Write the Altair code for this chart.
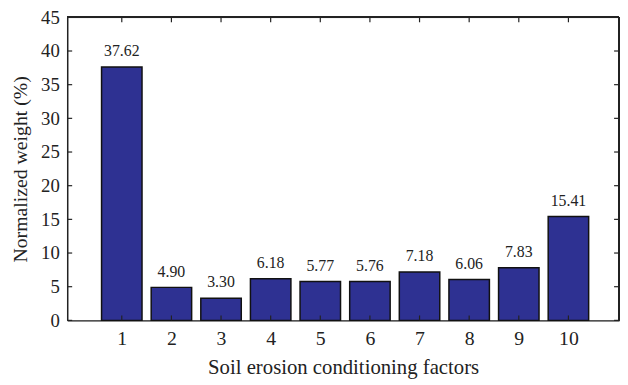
import altair as alt
import pandas as pd

factors = [1, 2, 3, 4, 5, 6, 7, 8, 9, 10]
weights = [37.62, 4.90, 3.30, 6.18, 5.77, 5.76, 7.18, 6.06, 7.83, 15.41]
labels = ["37.62", "4.90", "3.30", "6.18", "5.77", "5.76", "7.18", "6.06", "7.83", "15.41"]
y_ticks = [0, 5, 10, 15, 20, 25, 30, 35, 40, 45]

W, H = 559, 307
FONT = "Liberation Serif"
BAR = "#2e3192"
LINE = "#222222"

df = pd.DataFrame({"factor": factors, "weight": weights, "label": labels})
yt = pd.DataFrame({"v": y_ticks})
xt = pd.DataFrame({"v": factors})

xscale = alt.Scale(domain=[0, 10.92], nice=False, zero=False)
yscale = alt.Scale(domain=[0, 45], nice=False)

xaxis = alt.Axis(values=factors, title="Soil erosion conditioning factors", grid=False,
                 domain=True, domainColor=LINE, domainWidth=1.5, ticks=False,
                 labelFont=FONT, labelFontSize=20, labelOverlap=False,
                 labelColor="#222", labelPadding=8, titleFont=FONT, titleFontSize=21,
                 titleFontWeight="normal", titleColor="#222", titlePadding=9)
yaxis = alt.Axis(values=y_ticks, title="Normalized weight (%)", grid=False,
                 domain=True, domainColor=LINE, domainWidth=1.5, ticks=False,
                 labelFont=FONT, labelFontSize=19, labelOverlap=False, labelFlush=False,
                 labelColor="#222", labelPadding=8, titleFont=FONT, titleFontSize=20,
                 titleFontWeight="normal", titleColor="#222", titlePadding=10)

bars = alt.Chart(df).mark_bar(size=41, color=BAR, stroke="#111", strokeWidth=1.5).encode(
    x=alt.X("factor:Q", scale=xscale, axis=xaxis),
    y=alt.Y("weight:Q", scale=yscale, axis=yaxis),
)

text = alt.Chart(df).mark_text(font=FONT, fontSize=16, color="#222", baseline="bottom", dy=-8).encode(
    x=alt.X("factor:Q", scale=xscale, axis=xaxis),
    y=alt.Y("weight:Q", scale=yscale, axis=yaxis),
    text="label:N",
)

tick_style = dict(color=LINE, strokeWidth=1.2)
left_ticks = alt.Chart(yt).mark_rule(**tick_style).encode(
    y=alt.Y("v:Q", scale=yscale, axis=yaxis), x=alt.value(0), x2=alt.value(5))
right_ticks = alt.Chart(yt).mark_rule(**tick_style).encode(
    y=alt.Y("v:Q", scale=yscale, axis=yaxis), x=alt.value(W), x2=alt.value(W - 5))
bottom_ticks = alt.Chart(xt).mark_rule(**tick_style).encode(
    x=alt.X("v:Q", scale=xscale, axis=xaxis), y=alt.value(H), y2=alt.value(H - 5))
top_ticks = alt.Chart(xt).mark_rule(**tick_style).encode(
    x=alt.X("v:Q", scale=xscale, axis=xaxis), y=alt.value(0), y2=alt.value(5))

frame_style = dict(color=LINE, strokeWidth=1.5)
top_line = alt.Chart(xt).mark_rule(**frame_style).encode(
    x=alt.value(0), x2=alt.value(W), y=alt.value(0))
right_line = alt.Chart(xt).mark_rule(**frame_style).encode(
    y=alt.value(0), y2=alt.value(H), x=alt.value(W))

chart = alt.layer(bars, text, left_ticks, right_ticks, bottom_ticks, top_ticks,
                  top_line, right_line).properties(
    width=W, height=H,
    autosize=alt.AutoSizeParams(type="none"),
    padding={"left": 60, "top": 7, "right": 1, "bottom": 62},
).configure_view(strokeWidth=0).configure(background="white")

chart.save("out.html", embed_options={"renderer": "svg", "actions": False})
